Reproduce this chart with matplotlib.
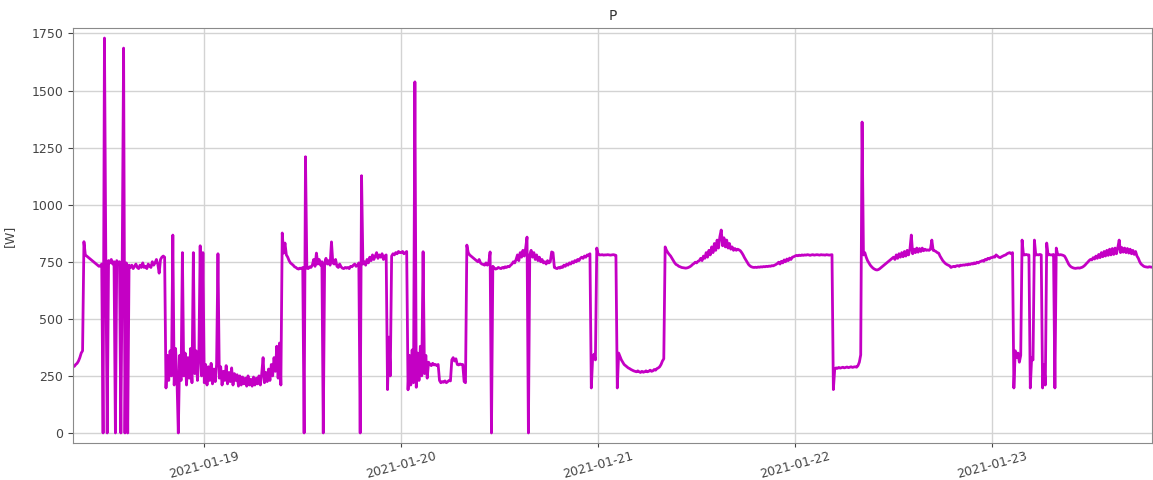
import numpy as np
import pandas as pd
import matplotlib
matplotlib.use("Agg")
import matplotlib.pyplot as plt
import matplotlib.dates as mdates

# Active power, sampled every 10 minutes, starting 2021-01-18 08:00
start = "2021-01-18 08:00"
step = "10min"

# one row per hour, six 10-minute samples per row
p_jan18 = [
    290, 292, 300, 305, 315, 330,      # 08
    350, 360, 838, 780, 775, 770,      # 09
    765, 760, 755, 750, 745, 740,      # 10
    735, 730, 732, 740, 0, 1730,       # 11
    760, 0, 755, 745, 760, 740,        # 12
    750, 0, 755, 740, 750, 0,          # 13
    760, 1686, 0, 745, 0, 735,         # 14
    725, 735, 720, 730, 740, 725,      # 15
    720, 735, 725, 745, 725, 730,      # 16
    720, 740, 730, 725, 750, 735,      # 17
    745, 760, 740, 700, 760, 770,      # 18
    775, 770, 197, 340, 230, 360,      # 19
    250, 867, 210, 370, 240, 0,        # 20
    340, 230, 790, 250, 350, 210,      # 21
    330, 240, 370, 220, 790, 260,      # 22
    360, 230, 320, 820, 250, 790,      # 23
]

p_jan19 = [
    220, 300, 210, 290, 230, 305,      # 00
    215, 280, 225, 300, 785, 240,      # 01
    290, 210, 270, 230, 295, 215,      # 02
    265, 225, 285, 210, 260, 230,      # 03
    255, 205, 250, 210, 245, 215,      # 04
    240, 205, 250, 210, 235, 205,      # 05
    245, 210, 240, 215, 250, 210,      # 06
    260, 330, 220, 265, 225, 280,      # 07
    230, 300, 250, 330, 270, 380,      # 08
    240, 394, 210, 876, 788, 832,      # 09
    780, 770, 755, 745, 740, 735,      # 10
    728, 725, 720, 718, 722, 720,      # 11
    725, 0, 1210, 722, 720, 728,       # 12
    725, 735, 760, 730, 788, 740,      # 13
    760, 735, 750, 0, 745, 765,        # 14
    740, 755, 735, 837, 745, 740,      # 15
    760, 730, 725, 740, 728, 722,      # 16
    720, 725, 722, 725, 720, 730,      # 17
    728, 735, 740, 730, 735, 745,      # 18
    0, 1127, 740, 750, 735, 760,       # 19
    745, 770, 755, 780, 760, 775,      # 20
    790, 765, 780, 770, 785, 760,      # 21
    775, 780, 190, 420, 250, 775,      # 22
    785, 780, 790, 785, 795, 790,      # 23
]

p_jan20 = [
    790, 795, 785, 790, 795, 189,      # 00
    340, 210, 364, 220, 1538, 200,     # 01
    350, 230, 380, 250, 794, 260,      # 02
    340, 240, 310, 300, 295, 305,      # 03
    298, 300, 295, 300, 230, 220,      # 04
    225, 222, 228, 220, 225, 230,      # 05
    228, 320, 330, 315, 325, 300,      # 06
    298, 302, 300, 300, 225, 220,      # 07
    823, 790, 780, 775, 770, 765,      # 08
    760, 755, 750, 760, 745, 740,      # 09
    738, 735, 745, 735, 745, 793,      # 10
    0, 730, 722, 718, 720, 725,        # 11
    722, 720, 725, 722, 728, 725,      # 12
    730, 728, 735, 740, 750, 745,      # 13
    760, 780, 755, 790, 770, 800,      # 14
    775, 810, 858, 0, 780, 800,        # 15
    770, 790, 760, 780, 755, 770,      # 16
    750, 760, 745, 750, 740, 755,      # 17
    745, 750, 793, 790, 725, 722,      # 18
    720, 725, 722, 728, 725, 735,      # 19
    730, 740, 735, 745, 740, 750,      # 20
    745, 755, 750, 760, 755, 765,      # 21
    770, 765, 775, 770, 780, 778,      # 22
    785, 197, 330, 345, 320, 810,      # 23
]

p_jan21 = [
    782, 780, 780, 781, 779, 780,      # 00
    780, 781, 780, 779, 780, 781,      # 01
    780, 778, 197, 350, 335, 320,      # 02
    310, 300, 295, 290, 285, 282,      # 03
    278, 275, 272, 270, 268, 272,      # 04
    268, 265, 270, 266, 268, 272,      # 05
    268, 270, 275, 270, 272, 278,      # 06
    275, 282, 285, 290, 300, 315,      # 07
    325, 815, 800, 790, 782, 775,      # 08
    765, 755, 745, 738, 735, 730,      # 09
    728, 725, 724, 723, 722, 723,      # 10
    725, 728, 732, 738, 742, 748,      # 11
    745, 752, 755, 765, 755, 775,      # 12
    765, 790, 770, 800, 780, 815,      # 13
    790, 830, 800, 845, 810, 860,      # 14
    889, 820, 855, 815, 845, 810,      # 15
    830, 805, 815, 800, 808, 800,      # 16
    805, 802, 798, 790, 780, 768,      # 17
    758, 748, 738, 732, 728, 726,      # 18
    725, 726, 725, 727, 726, 728,      # 19
    727, 729, 728, 730, 729, 731,      # 20
    730, 733, 732, 735, 738, 742,      # 21
    748, 740, 752, 745, 758, 750,      # 22
    762, 755, 766, 760, 770, 772,      # 23
]

p_jan22 = [
    775, 778, 776, 779, 777, 780,      # 00
    778, 780, 779, 781, 780, 778,      # 01
    780, 781, 779, 780, 781, 780,      # 02
    779, 781, 780, 780, 779, 781,      # 03
    780, 779, 780, 781, 190, 280,      # 04
    285, 283, 287, 284, 286, 288,      # 05
    285, 287, 289, 286, 288, 290,      # 06
    287, 289, 290, 288, 295, 310,      # 07
    342, 1362, 780, 790, 770, 755,     # 08
    745, 735, 728, 722, 718, 715,      # 09
    714, 716, 720, 725, 730, 735,      # 10
    740, 745, 750, 755, 760, 765,      # 11
    770, 760, 780, 765, 785, 770,      # 12
    790, 772, 795, 775, 800, 780,      # 13
    805, 867, 785, 805, 790, 810,      # 14
    792, 808, 795, 810, 798, 805,      # 15
    800, 802, 800, 805, 845, 800,      # 16
    798, 795, 790, 788, 775, 765,      # 17
    755, 748, 742, 738, 735, 732,      # 18
    725, 728, 730, 728, 732, 733,      # 19
    730, 735, 734, 736, 735, 738,      # 20
    736, 740, 738, 742, 740, 745,      # 21
    742, 748, 745, 750, 752, 755,      # 22
    752, 760, 758, 765, 762, 768,      # 23
]

p_jan23 = [
    768, 772, 770, 780, 775, 770,      # 00
    768, 772, 775, 778, 780, 785,      # 01
    788, 790, 785, 790, 197, 360,      # 02
    330, 350, 310, 340, 845, 780,      # 03
    780, 782, 780, 780, 197, 330,      # 04
    320, 845, 780, 781, 780, 782,      # 05
    780, 197, 300, 210, 832, 780,      # 06
    781, 780, 780, 782, 197, 810,      # 07
    782, 780, 781, 780, 778, 775,      # 08
    765, 752, 740, 732, 727, 724,      # 09
    722, 721, 722, 723, 722, 724,      # 10
    726, 730, 735, 742, 748, 755,      # 11
    760, 758, 768, 762, 775, 765,      # 12
    782, 768, 790, 772, 795, 775,      # 13
    800, 778, 805, 780, 808, 782,      # 14
    810, 785, 812, 845, 790, 812,      # 15
    792, 810, 790, 808, 788, 805,      # 16
    785, 800, 782, 795, 775, 765,      # 17
    750, 740, 735, 730, 728, 727,      # 18
    726, 728, 727, 726,                # 19
]

y_ticks = [0, 250, 500, 750, 1000, 1250, 1500, 1750]

power = np.array(p_jan18 + p_jan19 + p_jan20 + p_jan21 + p_jan22 + p_jan23,
                 dtype=float)
times = pd.date_range(start, periods=len(power), freq=step)

W, H = 1153, 480
fig = plt.figure(figsize=(W / 100, H / 100), dpi=100)
ax = fig.add_axes([73 / W, 1 - 443 / H, (1152 - 73) / W, (443 - 28) / H])

ax.plot(times, power, color="#c400c4", linewidth=2.0)

ax.set_xlim(times[0], times[-1])
ax.set_ylim(-44, 1774)
ax.set_yticks(y_ticks)

ax.xaxis.set_major_locator(mdates.DayLocator())
ax.xaxis.set_major_formatter(mdates.DateFormatter("%Y-%m-%d"))
ax.tick_params(axis="both", labelsize=9, colors="#444444")
ax.tick_params(axis="y", length=3.5)
ax.tick_params(axis="x", length=3, pad=1.5)
plt.setp(ax.get_xticklabels(), rotation=15, ha="center")

ax.grid(True, color="#d3d3d3", linewidth=1.0)
for s in ax.spines.values():
    s.set_color("#8a8a8a")

ax.set_title("P", fontsize=10, color="#333333")
ax.set_ylabel("[W]", fontsize=9, color="#444444")
ax.yaxis.set_label_coords(-0.053, 0.5)

fig.savefig("out.png", dpi=100)
